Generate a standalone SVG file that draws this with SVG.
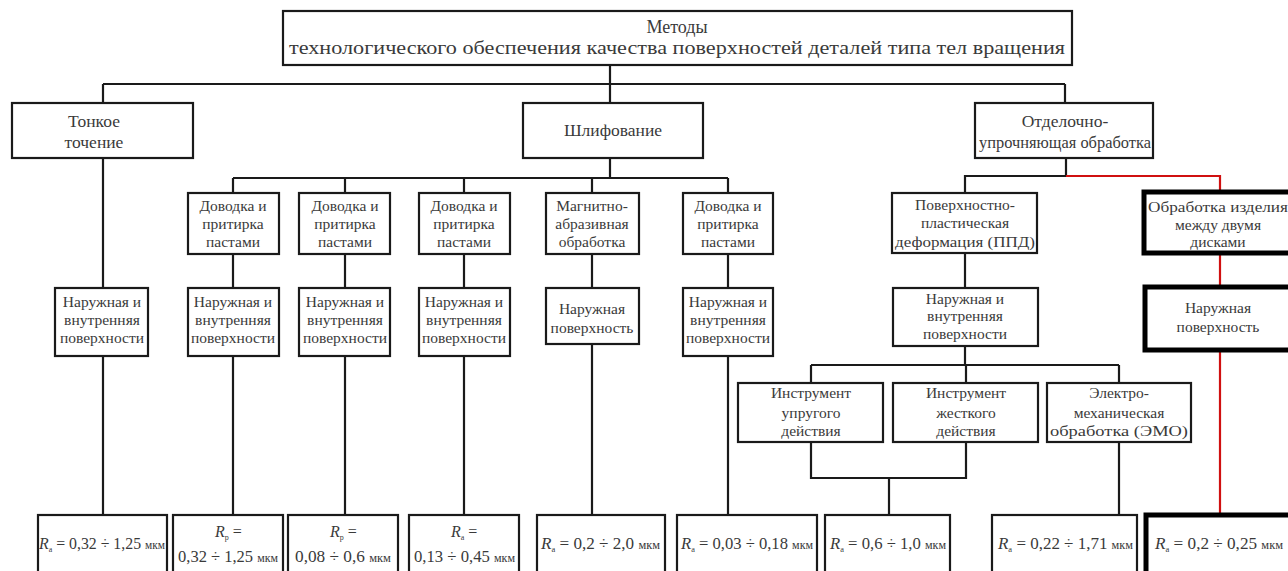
<svg xmlns="http://www.w3.org/2000/svg" width="1288" height="571" viewBox="0 0 1288 571" font-family="'Liberation Serif','DejaVu Serif','Times New Roman',serif">
<style>
.b{fill:#fff;stroke:#1a1a1a;stroke-width:2.2}
.bt{fill:#fff;stroke:#000;stroke-width:5}
.t{font-family:"Liberation Serif","DejaVu Serif","Times New Roman",serif;fill:#3a3a3a;text-anchor:middle}
.s16{font-size:15.5px}
.s17{font-size:17.5px}
.s18{font-size:18px}
.r{font-family:"Liberation Serif","DejaVu Serif","Times New Roman",serif;fill:#3a3a3a;font-size:16px}
.i{font-style:italic}
.m{font-size:11.5px}
.c{fill:none;stroke:#1a1a1a;stroke-width:2.2}
.red{fill:none;stroke:#d01010;stroke-width:2.2}
</style>
<rect width="1288" height="571" fill="#fff"/>
<g id="connectors">
<path class="c" d="M610 65V84M103 84H1065M103 84V103M610 84V103M1065 84V103"/>
<path class="c" d="M103 158V288M103 356V515"/>
<path class="c" d="M610 158V178M233 178H728M233 178V193M345 178V193M464 178V193M592 178V193M728 178V193"/>
<path class="c" d="M233 254V288M345 254V288M464 254V288M592 254V288M728 254V288"/>
<path class="c" d="M233 356V515M345 356V515M464 356V515M592 344V515M728 356V515"/>
<path class="c" d="M1066 158V176H965V193M965 253V288M965 346V365M811 365H1119M811 365V383M966 365V383M1119 365V383"/>
<path class="c" d="M811 442V478H966V442M889 478V515M1119 442V515"/>
<path class="red" d="M1066 176H1220V192M1220 253V287M1220 350V513"/>
</g>
<g id="root">
<rect class="b" x="283" y="11" width="789" height="54"/>
<text class="t s18" x="677" y="33">Методы</text>
<text class="t s18" x="677" y="54" textLength="776" lengthAdjust="spacingAndGlyphs">технологического обеспечения качества поверхностей деталей типа тел вращения</text>
</g>
<g id="n-tonkoe">
<rect class="b" x="12" y="103" width="181" height="55"/>
<text class="t s17" x="94" y="127">Тонкое</text>
<text class="t s17" x="94" y="148">точение</text>
</g>
<g id="n-shlif">
<rect class="b" x="523" y="103" width="180" height="55"/>
<text class="t s17" x="613" y="136">Шлифование</text>
</g>
<g id="n-otdel">
<rect class="b" x="975" y="103" width="178" height="55"/>
<text class="t s17" x="1065" y="127">Отделочно-</text>
<text class="t s17" x="1065" y="148" textLength="172" lengthAdjust="spacingAndGlyphs">упрочняющая обработка</text>
</g>
<g id="n-dov1">
<rect class="b" x="188" y="193" width="91" height="61"/>
<text class="t s16" x="233" y="211">Доводка и</text>
<text class="t s16" x="233" y="229">притирка</text>
<text class="t s16" x="233" y="247">пастами</text>
</g>
<g id="n-dov2">
<rect class="b" x="299" y="193" width="91" height="61"/>
<text class="t s16" x="345" y="211">Доводка и</text>
<text class="t s16" x="345" y="229">притирка</text>
<text class="t s16" x="345" y="247">пастами</text>
</g>
<g id="n-dov3">
<rect class="b" x="419" y="193" width="91" height="61"/>
<text class="t s16" x="464" y="211">Доводка и</text>
<text class="t s16" x="464" y="229">притирка</text>
<text class="t s16" x="464" y="247">пастами</text>
</g>
<g id="n-magn">
<rect class="b" x="546" y="193" width="93" height="61"/>
<text class="t s16" x="592" y="211">Магнитно-</text>
<text class="t s16" x="592" y="229">абразивная</text>
<text class="t s16" x="592" y="247">обработка</text>
</g>
<g id="n-dov4">
<rect class="b" x="683" y="193" width="90" height="61"/>
<text class="t s16" x="728" y="211">Доводка и</text>
<text class="t s16" x="728" y="229">притирка</text>
<text class="t s16" x="728" y="247">пастами</text>
</g>
<g id="n-ppd">
<rect class="b" x="892" y="193" width="145" height="60"/>
<text class="t s16" x="965" y="210">Поверхностно-</text>
<text class="t s16" x="965" y="228">пластическая</text>
<text class="t s16" x="965" y="247" textLength="140" lengthAdjust="spacingAndGlyphs">деформация (ППД)</text>
</g>
<g id="n-disk">
<rect class="bt" x="1144" y="192" width="150" height="61"/>
<text class="t s16" x="1218" y="212" textLength="140" lengthAdjust="spacingAndGlyphs">Обработка изделия</text>
<text class="t s16" x="1218" y="230">между двумя</text>
<text class="t s16" x="1218" y="247">дисками</text>
</g>
<g id="s-1">
<rect class="b" x="55" y="288" width="93" height="68"/>
<text class="t s16" x="102" y="307">Наружная и</text>
<text class="t s16" x="102" y="325">внутренняя</text>
<text class="t s16" x="102" y="343">поверхности</text>
</g>
<g id="s-2">
<rect class="b" x="188" y="288" width="91" height="68"/>
<text class="t s16" x="233" y="307">Наружная и</text>
<text class="t s16" x="233" y="325">внутренняя</text>
<text class="t s16" x="233" y="343">поверхности</text>
</g>
<g id="s-3">
<rect class="b" x="299" y="288" width="91" height="68"/>
<text class="t s16" x="345" y="307">Наружная и</text>
<text class="t s16" x="345" y="325">внутренняя</text>
<text class="t s16" x="345" y="343">поверхности</text>
</g>
<g id="s-4">
<rect class="b" x="419" y="288" width="91" height="68"/>
<text class="t s16" x="464" y="307">Наружная и</text>
<text class="t s16" x="464" y="325">внутренняя</text>
<text class="t s16" x="464" y="343">поверхности</text>
</g>
<g id="s-5">
<rect class="b" x="546" y="288" width="93" height="56"/>
<text class="t s16" x="592" y="314">Наружная</text>
<text class="t s16" x="592" y="333">поверхность</text>
</g>
<g id="s-6">
<rect class="b" x="683" y="288" width="90" height="68"/>
<text class="t s16" x="728" y="307">Наружная и</text>
<text class="t s16" x="728" y="325">внутренняя</text>
<text class="t s16" x="728" y="343">поверхности</text>
</g>
<g id="s-ppd">
<rect class="b" x="893" y="288" width="145" height="58"/>
<text class="t s16" x="965" y="304">Наружная и</text>
<text class="t s16" x="965" y="321">внутренняя</text>
<text class="t s16" x="965" y="339">поверхности</text>
</g>
<g id="s-disk">
<rect class="bt" x="1145" y="287" width="149" height="63"/>
<text class="t s16" x="1218" y="313">Наружная</text>
<text class="t s16" x="1218" y="332">поверхность</text>
</g>
<g id="tool-elastic">
<rect class="b" x="738" y="383" width="145" height="59"/>
<text class="t s16" x="811" y="398">Инструмент</text>
<text class="t s16" x="811" y="418">упругого</text>
<text class="t s16" x="811" y="436">действия</text>
</g>
<g id="tool-rigid">
<rect class="b" x="893" y="383" width="145" height="59"/>
<text class="t s16" x="966" y="398">Инструмент</text>
<text class="t s16" x="966" y="418">жесткого</text>
<text class="t s16" x="966" y="436">действия</text>
</g>
<g id="tool-emo">
<rect class="b" x="1047" y="383" width="144" height="59"/>
<text class="t s16" x="1119" y="398">Электро-</text>
<text class="t s16" x="1119" y="418">механическая</text>
<text class="t s16" x="1119" y="436" textLength="138" lengthAdjust="spacingAndGlyphs">обработка (ЭМО)</text>
</g>
<g id="r-1">
<rect class="b" x="38" y="515" width="129" height="70"/>
<text class="r" x="39" y="549" textLength="126" lengthAdjust="spacingAndGlyphs"><tspan class="i">R</tspan><tspan font-size="8" dy="3">a</tspan><tspan dy="-3"> = 0,32 ÷ 1,25 </tspan><tspan class="m">мкм</tspan></text>
</g>
<g id="r-2">
<rect class="b" x="173" y="515" width="110" height="70"/>
<text class="r" x="215" y="537"><tspan class="i">R</tspan><tspan font-size="8" dy="3">p</tspan><tspan dy="-3"> =</tspan></text>
<text class="r" x="178" y="562" textLength="100" lengthAdjust="spacingAndGlyphs">0,32 ÷ 1,25 <tspan class="m">мкм</tspan></text>
</g>
<g id="r-3">
<rect class="b" x="288" y="515" width="110" height="70"/>
<text class="r" x="330" y="537"><tspan class="i">R</tspan><tspan font-size="8" dy="3">p</tspan><tspan dy="-3"> =</tspan></text>
<text class="r" x="295" y="562" textLength="96" lengthAdjust="spacingAndGlyphs">0,08 ÷ 0,6 <tspan class="m">мкм</tspan></text>
</g>
<g id="r-4">
<rect class="b" x="409" y="515" width="110" height="70"/>
<text class="r" x="451" y="537"><tspan class="i">R</tspan><tspan font-size="8" dy="3">a</tspan><tspan dy="-3"> =</tspan></text>
<text class="r" x="414" y="562" textLength="101" lengthAdjust="spacingAndGlyphs">0,13 ÷ 0,45 <tspan class="m">мкм</tspan></text>
</g>
<g id="r-5">
<rect class="b" x="537" y="515" width="128" height="70"/>
<text class="r" x="541" y="549" textLength="119" lengthAdjust="spacingAndGlyphs"><tspan class="i">R</tspan><tspan font-size="8" dy="3">a</tspan><tspan dy="-3"> = 0,2 ÷ 2,0  </tspan><tspan class="m">мкм</tspan></text>
</g>
<g id="r-6">
<rect class="b" x="677" y="515" width="140" height="70"/>
<text class="r" x="681" y="549" textLength="132" lengthAdjust="spacingAndGlyphs"><tspan class="i">R</tspan><tspan font-size="8" dy="3">a</tspan><tspan dy="-3"> = 0,03 ÷ 0,18  </tspan><tspan class="m">мкм</tspan></text>
</g>
<g id="r-7">
<rect class="b" x="825" y="515" width="125" height="70"/>
<text class="r" x="830" y="549" textLength="116" lengthAdjust="spacingAndGlyphs"><tspan class="i">R</tspan><tspan font-size="8" dy="3">a</tspan><tspan dy="-3"> = 0,6 ÷ 1,0  </tspan><tspan class="m">мкм</tspan></text>
</g>
<g id="r-8">
<rect class="b" x="992" y="515" width="145" height="70"/>
<text class="r" x="998" y="549" textLength="135" lengthAdjust="spacingAndGlyphs"><tspan class="i">R</tspan><tspan font-size="8" dy="3">a</tspan><tspan dy="-3"> = 0,22 ÷ 1,71  </tspan><tspan class="m">мкм</tspan></text>
</g>
<g id="r-9">
<rect class="bt" x="1146" y="515" width="150" height="70"/>
<text class="r" x="1155" y="549" textLength="128" lengthAdjust="spacingAndGlyphs"><tspan class="i">R</tspan><tspan font-size="8" dy="3">a</tspan><tspan dy="-3"> = 0,2 ÷ 0,25  </tspan><tspan class="m">мкм</tspan></text>
</g>
</svg>
